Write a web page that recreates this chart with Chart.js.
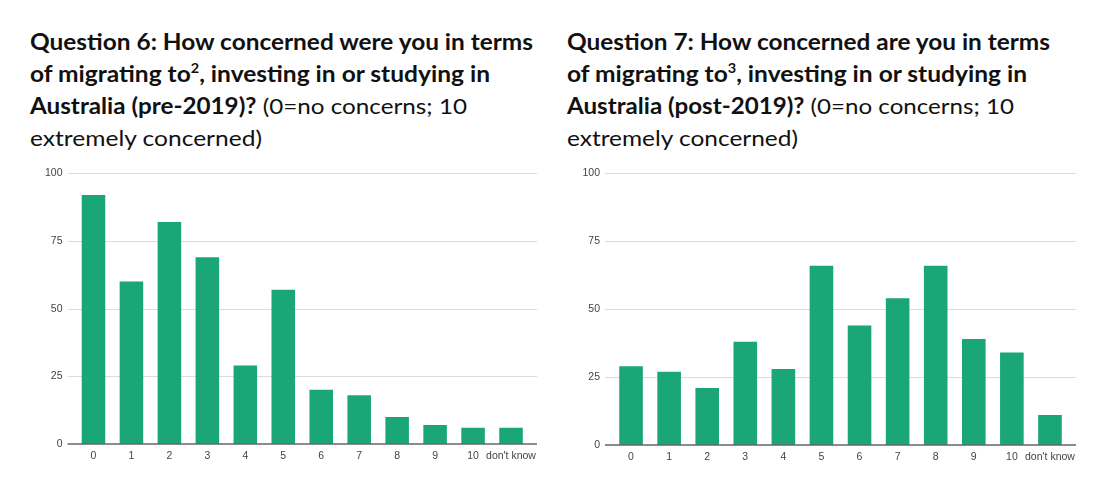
<!DOCTYPE html>
<html>
<head>
<meta charset="utf-8">
<script src="https://cdn.jsdelivr.net/npm/chart.js@4/dist/chart.umd.min.js"></script>
<style>
  html, body { margin: 0; padding: 0; background: #fff; }
  body { width: 1117px; height: 491px; position: relative; overflow: hidden; }
  .title { position: absolute; top: 26px; font-family: "Lato", "Open Sans", sans-serif; font-size: 22px; color: #111; }
  .title .line { height: 32px; line-height: 32px; white-space: nowrap; transform-origin: 0 50%; display: block; width: max-content; }
  .title b { font-weight: 700; }
  .title sup { font-size: 13px; line-height: 0; vertical-align: 9px; }
  .box { position: absolute; top: 155px; }
</style>
</head>
<body>

<div class="title" style="left:30px" id="t1">
  <span class="line" data-w="503"><b>Question 6: How concerned were you in terms</b></span>
  <span class="line" data-w="460"><b>of migrating to<sup>2</sup>, investing in or studying in</b></span>
  <span class="line" data-w="437"><b>Australia (pre-2019)?</b> (0=no concerns; 10</span>
  <span class="line" data-w="232">extremely concerned)</span>
</div>
<div class="title" style="left:567px" id="t2">
  <span class="line" data-w="483"><b>Question 7: How concerned are you in terms</b></span>
  <span class="line" data-w="460"><b>of migrating to<sup>3</sup>, investing in or studying in</b></span>
  <span class="line" data-w="447"><b>Australia (post-2019)?</b> (0=no concerns; 10</span>
  <span class="line" data-w="231">extremely concerned)</span>
</div>

<div class="box" style="left:0px;width:550px;height:319px"><canvas id="c1"></canvas></div>
<div class="box" style="left:550px;width:567px;height:320px"><canvas id="c2"></canvas></div>

<script>
// answers 0..10 plus "don't know"
var categories = ['0', '1', '2', '3', '4', '5', '6', '7', '8', '9', '10', "don't know"];
var pre2019 = [92, 60, 82, 69, 29, 57, 20, 18, 10, 7, 6, 6];
var post2019 = [29, 27, 21, 38, 28, 66, 44, 54, 66, 39, 34, 11];
var yTicks = [0, 25, 50, 75, 100];

var barColor = '#1aa677';

// gridlines and baseline reach a little past the bars, like google sheets
var sheetGrid = {
  id: 'sheetGrid',
  beforeDatasetsDraw: function (chart) {
    var ctx = chart.ctx, a = chart.chartArea, y = chart.scales.y;
    ctx.save();
    ctx.strokeStyle = '#dcdcdc';
    ctx.lineWidth = 1;
    yTicks.forEach(function (v) {
      if (v === 0) return;
      var py = Math.round(y.getPixelForValue(v)) + 0.5;
      ctx.beginPath();
      ctx.moveTo(a.left - 7, py);
      ctx.lineTo(a.right + 7, py);
      ctx.stroke();
    });
    ctx.restore();
  },
  afterDatasetsDraw: function (chart) {
    var ctx = chart.ctx, a = chart.chartArea, y = chart.scales.y;
    var py = y.getPixelForValue(0);
    ctx.save();
    ctx.strokeStyle = '#666';
    ctx.lineWidth = 1.6;
    ctx.beginPath();
    ctx.moveTo(a.left - 7, py);
    ctx.lineTo(a.right + 7, py);
    ctx.stroke();
    ctx.restore();
  }
};

function makeChart(id, values, yWidth, padRight) {
  return new Chart(document.getElementById(id), {
    type: 'bar',
    data: {
      labels: categories,
      datasets: [{
        data: values,
        backgroundColor: barColor,
        borderWidth: 0,
        barPercentage: 0.62,
        categoryPercentage: 1
      }]
    },
    options: {
      responsive: true,
      maintainAspectRatio: false,
      animation: false,
      events: [],
      layout: { padding: { top: 8, right: padRight, left: 0, bottom: 0 } },
      plugins: { legend: { display: false }, tooltip: { enabled: false }, title: { display: false } },
      scales: {
        x: {
          grid: { display: false, drawTicks: false },
          border: { display: false },
          ticks: { color: '#444', padding: 6, maxRotation: 0, autoSkip: false, font: { family: 'Liberation Sans, Arial', size: 10.5 } },
          afterFit: function (s) { s.height = 30; }
        },
        y: {
          min: 0,
          max: 100,
          afterBuildTicks: function (s) { s.ticks = yTicks.map(function (v) { return { value: v }; }); },
          grid: { display: false, drawTicks: false },
          border: { display: false },
          ticks: { color: '#444', padding: 12, font: { family: 'Liberation Sans, Arial', size: 10.5 } },
          afterFit: function (s) { s.width = yWidth; }
        }
      }
    },
    plugins: [sheetGrid]
  });
}

makeChart('c1', pre2019, 74.5, 20);
makeChart('c2', post2019, 62, 48);

// squeeze each title line to the width it has in the picture
function fitTitles() {
  document.querySelectorAll('.title .line').forEach(function (el) {
    el.style.transform = 'none';
    var w = el.getBoundingClientRect().width;
    var target = parseFloat(el.getAttribute('data-w'));
    el.style.transform = 'scaleX(' + (target / w) + ')';
  });
}
fitTitles();
if (document.fonts && document.fonts.ready) document.fonts.ready.then(fitTitles);
</script>
</body>
</html>
